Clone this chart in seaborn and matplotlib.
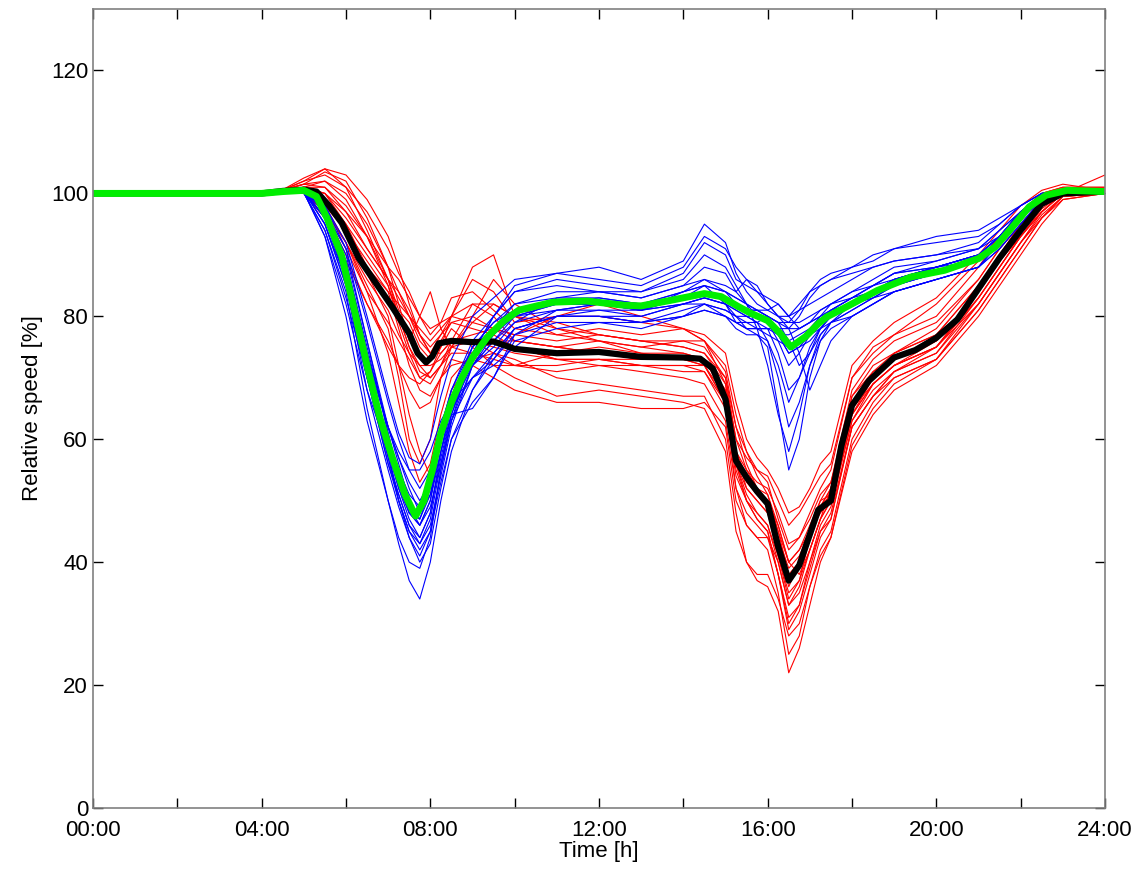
import numpy as np
import pandas as pd
import matplotlib
matplotlib.use("Agg")
import matplotlib.pyplot as plt
import seaborn as sns

# common time grid (hours) of the thin day curves
grid_t = [0, 4, 4.5, 5, 5.5, 6, 6.5, 7, 7.25, 7.5, 7.75, 8, 8.25, 8.5, 9, 9.5, 10,
          11, 12, 13, 14, 14.5, 15, 15.25, 15.5, 15.75, 16, 16.25, 16.5, 16.75,
          17, 17.25, 17.5, 18, 18.5, 19, 20, 21, 21.5, 22, 22.5, 23, 24]

red_days = [
    [100, 100, 100.6, 101.5, 103.5, 102, 96, 88, 84, 80, 76, 74, 76, 79, 80, 78, 76, 75, 74, 73, 73, 72, 66, 56, 52, 50, 48, 41, 34, 37, 44, 49, 52, 67, 72, 74, 77, 85, 90, 95, 99, 100.5, 100.5],
    [100, 100, 100.3, 100.5, 97, 91, 84, 79, 76, 73, 70, 71, 74, 76, 77, 78, 77, 76, 77, 76, 75, 74, 70, 60, 55, 52, 50, 45, 40, 42, 46, 50, 51, 64, 70, 74, 78, 86, 91, 95, 98.5, 100, 100],
    [100, 100, 100.5, 102, 104, 103, 99, 93, 88, 82, 77, 74, 77, 80, 86, 84, 79, 80, 82, 80, 78, 76, 71, 62, 58, 55, 53, 47, 42, 44, 48, 52, 55, 70, 75, 77, 80, 88, 93, 97, 100, 101, 101],
    [100, 100, 100.2, 100, 96, 89, 82, 75, 72, 68, 65, 66, 70, 73, 72, 70, 68, 66, 66, 65, 65, 66, 62, 50, 46, 44, 42, 35, 25, 28, 36, 42, 45, 60, 66, 70, 73, 81, 86, 91, 96, 99.5, 100],
    [100, 100, 100.4, 101, 100, 95, 88, 84, 82, 80, 78, 76, 78, 80, 82, 82, 80, 78, 77, 76, 75, 74, 69, 58, 54, 52, 51, 45, 38, 40, 45, 50, 53, 68, 73, 76, 79, 86, 91, 95, 98, 100, 100],
    [100, 100, 100.3, 100.4, 98, 92, 85, 78, 70, 60, 56, 60, 70, 75, 76, 74, 72, 71, 72, 71, 70, 69, 63, 52, 48, 46, 44, 38, 30, 33, 40, 46, 49, 63, 68, 71, 74, 83, 88, 93, 97, 100, 100],
    [100, 100, 100.6, 102.5, 104, 101, 94, 86, 81, 79, 75, 73, 75, 80, 88, 90, 80, 77, 76, 75, 74, 73, 67, 58, 55, 53, 52, 48, 43, 44, 47, 51, 53, 66, 71, 73, 76, 84, 89, 94, 98, 100.5, 100.5],
    [100, 100, 100.2, 100, 97, 92, 84, 74, 66, 58, 53, 56, 64, 70, 74, 76, 75, 73, 73, 73, 73, 73, 68, 56, 50, 47, 45, 38, 31, 33, 39, 45, 48, 62, 67, 71, 75, 82, 87, 92, 96.5, 99.5, 100],
    [100, 100, 100.5, 101.5, 101, 97, 91, 86, 83, 80, 77, 75, 77, 79, 78, 77, 75, 73, 73, 72, 72, 72, 67, 57, 53, 51, 49, 43, 36, 40, 45, 49, 51, 65, 69, 72, 75, 84, 89, 94, 98.5, 100.5, 100.5],
    [100, 100, 100.4, 100.8, 99, 95, 90, 85, 80, 75, 71, 70, 72, 74, 74, 73, 72, 72, 73, 72, 72, 71, 65, 54, 50, 47, 45, 38, 29, 32, 38, 44, 47, 62, 67, 70, 73, 82, 87, 92, 96, 99, 100],
    [100, 100, 100.5, 101, 100, 97, 93, 88, 86, 83, 80, 78, 79, 80, 79, 78, 77, 80, 80, 79, 78, 76, 69, 60, 57, 55, 54, 50, 46, 48, 51, 54, 56, 70, 74, 77, 82, 89, 93, 97, 100, 101, 101],
    [100, 100, 100.3, 100.5, 97.5, 92, 86, 81, 77, 74, 72, 72, 73, 75, 74, 76, 76, 75, 74, 73, 73, 73, 67, 55, 50, 48, 46, 40, 33, 36, 42, 47, 50, 64, 69, 72, 75, 83, 88, 93, 97, 100, 103],
    [100, 100, 100.5, 101, 102, 100, 95, 88, 82, 76, 80, 84, 78, 75, 80, 86, 82, 78, 76, 75, 76, 75, 70, 62, 56, 52, 50, 46, 40, 38, 42, 47, 52, 66, 70, 73, 76, 84, 89, 94, 98, 100.3, 100.3],
    [100, 100, 100.3, 100.8, 99, 94, 87, 80, 72, 64, 58, 54, 60, 68, 73, 74, 73, 70, 69, 68, 67, 67, 60, 48, 40, 37, 36, 32, 22, 26, 33, 40, 44, 58, 64, 68, 72, 80, 85, 90, 95, 99, 100],
    [100, 100, 100.6, 102, 103, 101, 97, 91, 87, 84, 80, 77, 79, 83, 84, 81, 78, 77, 78, 77, 78, 77, 74, 66, 60, 57, 55, 52, 48, 49, 52, 56, 58, 72, 76, 79, 83, 90, 94, 98, 100.5, 101.5, 100.5],
    [100, 100, 100.2, 100.2, 97, 90, 82, 76, 72, 70, 69, 71, 75, 78, 75, 72, 70, 67, 68, 67, 66, 65, 58, 45, 40, 38, 38, 34, 28, 30, 36, 41, 44, 59, 65, 69, 73, 81, 86, 91, 96, 99.5, 100],
    [100, 100, 100.4, 101, 101, 98, 93, 86, 80, 75, 72, 70, 72, 76, 82, 80, 76, 75, 76, 74, 73, 72, 66, 52, 46, 44, 44, 40, 33, 35, 40, 45, 47, 62, 67, 71, 74, 82, 87, 92, 97, 100, 100],
    [100, 100, 100.3, 100.5, 98, 94, 89, 84, 78, 72, 68, 67, 70, 72, 73, 72, 72, 74, 75, 74, 74, 73, 68, 58, 52, 50, 48, 44, 39, 41, 45, 49, 52, 67, 71, 74, 77, 85, 90, 95, 99, 100.5, 100.5],
    [100, 100, 100.5, 101.5, 102, 99, 93, 85, 79, 74, 70, 69, 72, 75, 79, 82, 80, 79, 77, 76, 76, 76, 72, 64, 58, 54, 51, 46, 40, 42, 45, 48, 50, 63, 69, 72, 76, 84, 89, 93, 97, 100, 100],
    [100, 100, 100.4, 100.9, 100, 96, 91, 86, 84, 81, 77, 74, 74, 76, 76, 75, 74, 73, 72, 72, 71, 71, 66, 56, 51, 48, 46, 41, 35, 37, 42, 47, 50, 64, 69, 72, 75, 83, 88, 93, 97.5, 100, 100.3],
]

blue_days = [
    [100, 100, 100.3, 100.3, 95, 85, 68, 55, 49, 44, 41, 45, 55, 63, 72, 76, 80, 82, 82, 81, 84, 86, 84, 82, 81, 80, 79, 78, 76, 77, 78, 80, 81, 83, 85, 86, 88, 90, 93, 97, 99.5, 100.5, 100],
    [100, 100, 100.4, 100.6, 97, 90, 76, 62, 56, 50, 47, 51, 60, 66, 74, 78, 82, 84, 84, 83, 85, 88, 87, 84, 82, 81, 80, 77, 74, 75, 77, 79, 81, 83, 85, 87, 89, 91, 94, 97, 99.5, 100.5, 100.3],
    [100, 100, 100.2, 100, 94, 84, 65, 50, 43, 37, 34, 40, 50, 58, 68, 74, 78, 80, 80, 79, 81, 82, 80, 78, 77, 77, 76, 70, 62, 66, 72, 76, 78, 80, 82, 84, 86, 88, 91, 95, 99, 100.3, 100.3],
    [100, 100, 100.5, 100.8, 98, 91, 79, 66, 60, 55, 52, 55, 62, 68, 76, 80, 84, 86, 85, 84, 87, 92, 90, 86, 85, 84, 83, 82, 80, 81, 82, 83, 84, 86, 88, 89, 90, 92, 95, 98, 100, 100.5, 100.3],
    [100, 100, 100.3, 100.4, 96, 87, 72, 58, 52, 47, 44, 48, 57, 64, 73, 77, 80, 81, 81, 81, 82, 83, 82, 80, 78, 77, 75, 65, 55, 60, 70, 76, 79, 81, 83, 85, 87, 89, 92, 96, 99.5, 100.3, 100.3],
    [100, 100, 100.4, 100.6, 97, 89, 74, 62, 58, 55, 55, 58, 63, 66, 70, 73, 77, 79, 79, 78, 80, 81, 80, 79, 78, 78, 77, 76, 75, 76, 77, 78, 79, 80, 82, 84, 86, 88, 92, 96, 99, 100.3, 100.3],
    [100, 100, 100.3, 100.5, 96, 86, 70, 56, 50, 45, 43, 47, 56, 63, 74, 80, 85, 87, 88, 86, 89, 95, 92, 87, 84, 82, 81, 80, 79, 81, 84, 86, 87, 88, 90, 91, 92, 93, 95, 98, 100, 100.5, 100.3],
    [100, 100, 100.3, 100.3, 96, 86, 73, 62, 57, 53, 50, 53, 60, 65, 70, 74, 78, 80, 80, 80, 82, 82, 81, 80, 80, 79, 78, 74, 68, 70, 74, 78, 80, 82, 84, 86, 88, 90, 93, 96, 99, 100.3, 100.3],
    [100, 100, 100.4, 100.5, 97, 88, 71, 57, 51, 46, 44, 48, 58, 66, 75, 79, 81, 82, 83, 82, 83, 84, 83, 82, 81, 81, 80, 79, 78, 78, 79, 80, 81, 82, 83, 84, 86, 88, 91, 95, 99, 100.3, 100.3],
    [100, 100, 100.2, 100.2, 93, 82, 68, 58, 52, 48, 47, 52, 62, 68, 75, 78, 80, 82, 82, 82, 84, 85, 82, 79, 78, 78, 78, 77, 77, 78, 79, 80, 82, 84, 85, 87, 88, 89, 92, 96, 99, 100.3, 100.3],
    [100, 100, 100.4, 100.6, 97, 91, 76, 61, 54, 48, 46, 50, 60, 67, 75, 79, 82, 83, 83, 82, 84, 85, 84, 83, 82, 80, 79, 76, 72, 74, 77, 79, 81, 83, 84, 86, 88, 90, 93, 97, 99.5, 100.5, 100.3],
    [100, 100, 100.3, 100.4, 95, 86, 70, 56, 51, 46, 43, 46, 54, 62, 72, 77, 81, 82, 82, 81, 83, 84, 83, 82, 81, 81, 80, 79, 79, 79, 80, 81, 82, 83, 85, 87, 88, 90, 93, 97, 99.5, 100.5, 100.3],
    [100, 100, 100.3, 100.2, 93, 80, 63, 50, 44, 40, 39, 44, 55, 63, 70, 72, 75, 80, 81, 80, 82, 83, 82, 81, 80, 79, 76, 72, 66, 70, 75, 78, 80, 82, 84, 86, 88, 90, 93, 97, 99.5, 100.3, 100.3],
    [100, 100, 100.5, 100.8, 98, 92, 80, 67, 61, 57, 56, 60, 67, 73, 80, 83, 86, 87, 86, 85, 88, 93, 91, 88, 86, 84, 82, 80, 78, 80, 83, 85, 86, 88, 89, 91, 93, 94, 96, 98, 100, 100.5, 100.3],
    [100, 100, 100.3, 100.4, 96, 88, 73, 58, 50, 44, 40, 43, 52, 60, 68, 73, 78, 80, 80, 79, 80, 82, 81, 80, 79, 78, 78, 78, 78, 74, 68, 72, 76, 80, 82, 84, 86, 88, 92, 96, 99, 100.3, 100.3],
    [100, 100, 100.2, 100.1, 94, 83, 70, 60, 55, 51, 49, 53, 61, 67, 72, 75, 79, 81, 82, 81, 83, 85, 84, 83, 82, 78, 72, 64, 58, 64, 72, 77, 79, 82, 84, 86, 88, 90, 93, 96, 99, 100.3, 100.3],
    [100, 100, 100.4, 100.6, 97, 89, 75, 61, 54, 49, 46, 49, 56, 64, 74, 80, 84, 85, 84, 83, 85, 86, 85, 84, 86, 85, 82, 80, 80, 82, 84, 85, 86, 87, 88, 89, 90, 91, 94, 97, 99.5, 100.4, 100.3],
    [100, 100, 100.3, 100.4, 95, 85, 70, 57, 50, 45, 42, 45, 53, 60, 66, 70, 77, 81, 82, 81, 82, 83, 82, 81, 80, 80, 79, 77, 74, 75, 76, 78, 80, 82, 84, 85, 87, 89, 92, 96, 99, 100.3, 100.3],
    [100, 100, 100.4, 100.5, 96, 87, 72, 59, 53, 48, 46, 50, 58, 65, 72, 76, 79, 83, 84, 84, 86, 90, 88, 85, 82, 81, 81, 82, 80, 78, 79, 81, 82, 84, 86, 88, 89, 91, 93, 97, 99.5, 100.4, 100.3],
    [100, 100, 100.3, 100.4, 97, 88, 74, 62, 57, 52, 48, 51, 58, 64, 65, 70, 76, 78, 79, 79, 80, 81, 80, 79, 79, 79, 80, 79, 76, 72, 74, 77, 79, 81, 83, 85, 87, 89, 92, 96, 99, 100.3, 100.3],
]

# mean curves
black_t = [0, 4, 4.5, 5, 5.3, 5.6, 5.9, 6.3, 6.7, 7.1, 7.5, 7.7, 7.9, 8.05, 8.2, 8.5, 9, 9.5,
           10, 11, 12, 13, 14, 14.4, 14.7, 15, 15.25, 15.5, 15.75, 16, 16.25, 16.5, 16.75,
           17, 17.2, 17.5, 17.75, 18, 18.4, 19, 19.5, 20, 20.5, 21, 21.5, 22, 22.5, 23, 24]
black_v = [100, 100, 100.4, 100.6, 100.3, 98, 95.2, 89.5, 85.5, 81.5, 77.2, 74, 72.5, 73.5,
           75.6, 76, 75.8, 75.9, 74.7, 74, 74.2, 73.4, 73.3, 73.1, 71.5, 66.5, 56.5, 53.8,
           51.5, 49.5, 42.5, 37, 39.5, 44.5, 48.5, 50, 59, 65.5, 69.5, 73.3, 74.5, 76.5, 79.5,
           84.5, 89.5, 94, 98.3, 100, 100.3]

green_t = [0, 4, 4.5, 5, 5.3, 5.55, 5.9, 6.2, 6.5, 6.8, 7.1, 7.4, 7.65, 7.85, 8.05, 8.25,
           8.5, 8.75, 9, 9.35, 9.75, 10.1, 10.9, 11.7, 12.6, 13, 13.7, 14.5, 14.9, 15.3,
           15.6, 16, 16.3, 16.55, 16.9, 17.2, 17.4, 17.8, 18.6, 19.4, 20.2, 21, 21.4, 21.8,
           22.2, 22.6, 23.1, 24]
green_v = [100, 100, 100.3, 100.5, 99.5, 96, 89.8, 81, 72, 63.6, 57, 51, 47.5, 50, 55, 61,
           66, 70, 73.3, 76.6, 79.3, 81, 82.3, 82.5, 81.8, 81.7, 82.6, 83.7, 83.2, 81.6,
           80.5, 79.3, 77.2, 75, 76.7, 78.8, 79.9, 81.3, 84.2, 86.4, 87.5, 89.4, 91.3, 94.5,
           97.8, 99.7, 100.5, 100.3]


def to_long(curves):
    rows = []
    for i, vals in enumerate(curves):
        for t, v in zip(grid_t, vals):
            rows.append((i, t, v))
    return pd.DataFrame(rows, columns=["day", "time", "speed"])


sns.set_style("ticks")
plt.rcParams["font.family"] = ["Liberation Sans", "DejaVu Sans"]

fig = plt.figure(figsize=(11.42, 8.69), dpi=100)
ax = fig.add_axes([0.0814, 0.0702, 0.8862, 0.9194])

sns.lineplot(data=to_long(red_days), x="time", y="speed", units="day",
             estimator=None, color="#ff0000", lw=0.8, ax=ax, legend=False)
sns.lineplot(data=to_long(blue_days), x="time", y="speed", units="day",
             estimator=None, color="#0000ff", lw=0.8, ax=ax, legend=False)
sns.lineplot(x=black_t, y=black_v, color="black", lw=4.5, ax=ax, legend=False)
sns.lineplot(x=green_t, y=green_v, color="#00ee00", lw=5, ax=ax, legend=False)

ax.set_xlim(0, 24)
ax.set_ylim(0, 130)
ax.set_xticks(range(0, 25, 4))
ax.set_xticklabels(["%02d:00" % h for h in range(0, 25, 4)])
ax.set_xticks(range(2, 24, 4), minor=True)
ax.set_yticks(range(0, 121, 20))
ax.tick_params(which="both", direction="in", top=True, right=True, length=7,
               width=1, labelsize=16, color="black", labelcolor="black")
ax.tick_params(axis="x", pad=9)
ax.set_xlabel("Time [h]", fontsize=16, labelpad=0, color="black")
ax.set_ylabel("Relative speed [%]", fontsize=16, labelpad=6, color="black")
for s in ax.spines.values():
    s.set_color("#808080")
    s.set_linewidth(1.2)

fig.savefig("out.png", dpi=100)
